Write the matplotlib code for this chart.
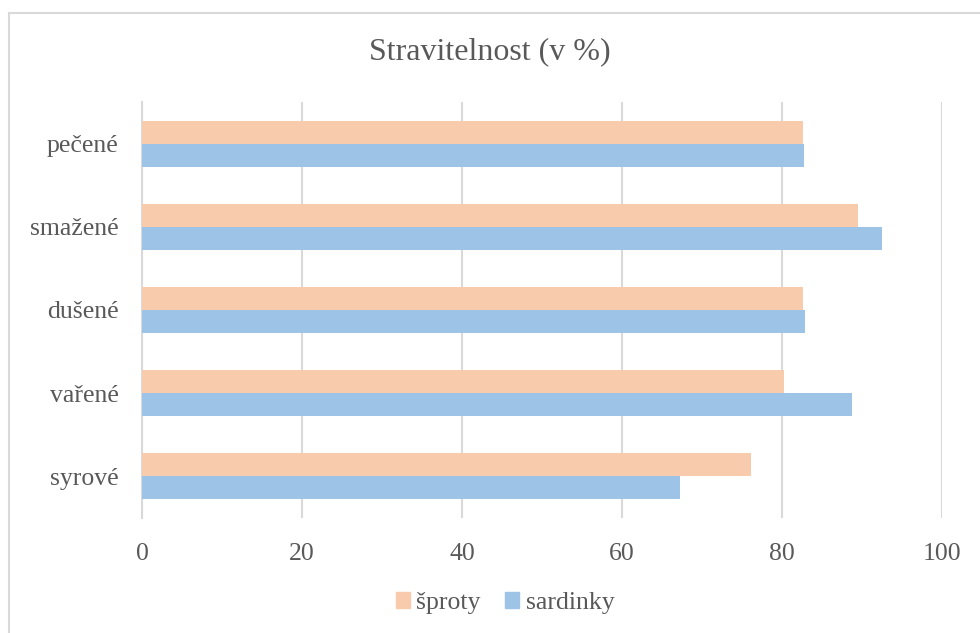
import numpy as np
import matplotlib.pyplot as plt
from matplotlib.lines import Line2D
from matplotlib.patches import Patch

# zpracovani ryb - stravitelnost
kategorie = ['syrové', 'vařené', 'dušené', 'smažené', 'pečené']
sproty = [76.1, 80.2, 82.6, 89.5, 82.6]
sardinky = [67.3, 88.8, 82.9, 92.5, 82.7]
osa_x = [0, 20, 40, 60, 80, 100]

c_sproty = '#F8CBAD'
c_sardinky = '#9DC3E6'
seda = '#595959'

plt.rcParams['font.family'] = ['Liberation Serif', 'DejaVu Serif']

fig = plt.figure(figsize=(9.8, 6.33), dpi=100)
W, H = 980, 633
ax = fig.add_axes([142 / W, 1 - 518 / H, 800 / W, 416 / H])

y = np.arange(len(kategorie))
h = 0.277
ax.barh(y + h / 2, sproty, height=h, color=c_sproty, zorder=3)
ax.barh(y - h / 2, sardinky, height=h, color=c_sardinky, zorder=3)

ax.set_xlim(0, 100)
ax.set_ylim(-0.5, len(kategorie) - 0.5)
ax.set_xticks(osa_x)
ax.set_xticklabels([str(v) for v in osa_x])
ax.set_yticks(y)
ax.set_yticklabels(kategorie, fontsize=19)
ax.grid(axis='x', color='#d9d9d9', linewidth=1.5, zorder=0)
ax.tick_params(axis='both', length=0, labelsize=18.5, labelcolor=seda)
ax.tick_params(axis='x', pad=18)
ax.tick_params(axis='y', pad=17)
for s in ['top', 'right', 'bottom']:
    ax.spines[s].set_visible(False)
ax.spines['left'].set_color('#d9d9d9')
ax.spines['left'].set_linewidth(1.5)

fig.text(0.5, 1 - 52 / H, 'Stravitelnost (v %)', ha='center', va='center',
         fontsize=23, color=seda)

handles = [Patch(color=c_sproty), Patch(color=c_sardinky)]
fig.legend(handles, ['šproty', 'sardinky'], loc='center',
           bbox_to_anchor=(505 / W, 1 - 603 / H), ncol=2, frameon=False,
           fontsize=18.5, labelcolor=seda, handlelength=0.55, handleheight=0.55,
           handletextpad=0.25, columnspacing=0.95, borderpad=0)

# ramecek grafu
fig.add_artist(Line2D([9 / W, 1], [1 - 13 / H, 1 - 13 / H], color='#d9d9d9', lw=1.5))
fig.add_artist(Line2D([9 / W, 9 / W], [0, 1 - 13 / H], color='#d9d9d9', lw=1.5))

fig.savefig('out.png', dpi=100)
